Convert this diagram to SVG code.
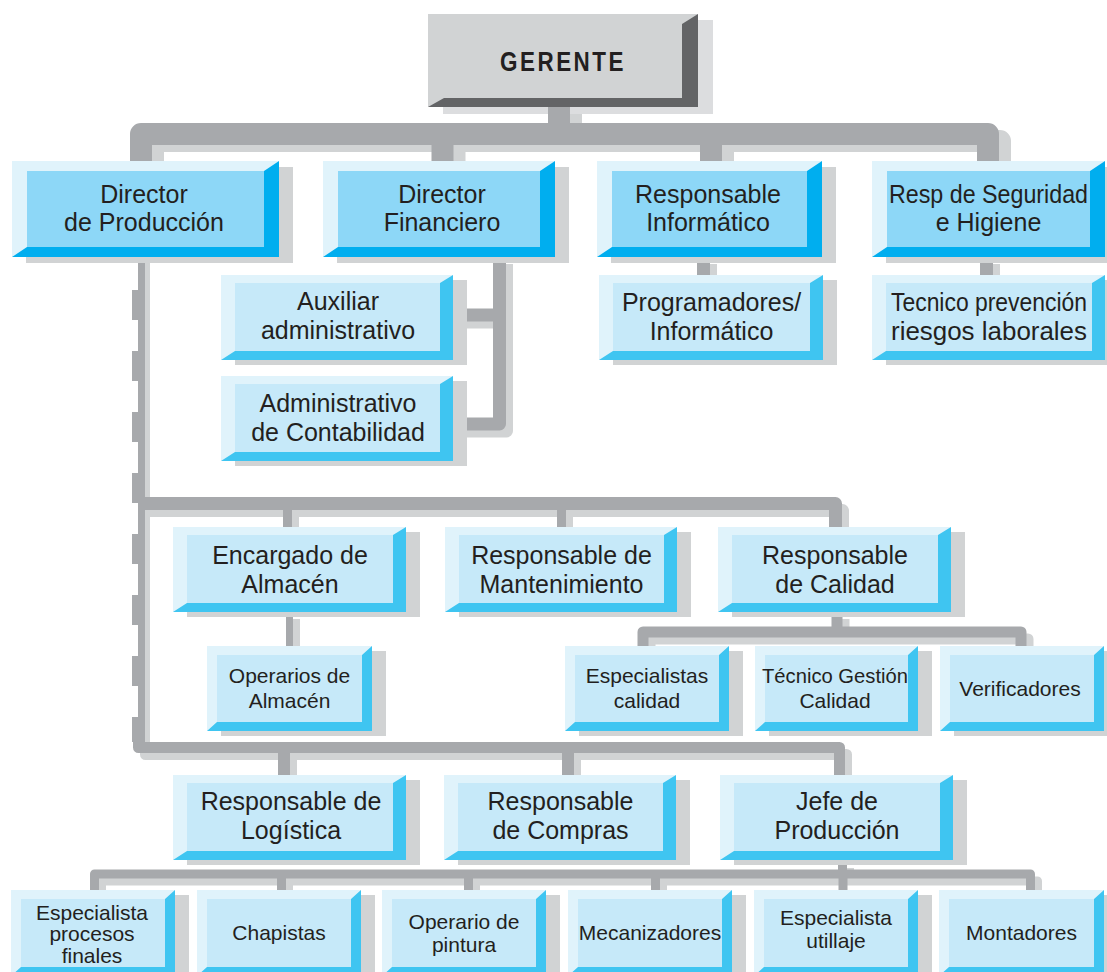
<svg xmlns="http://www.w3.org/2000/svg" width="1107" height="972" viewBox="0 0 1107 972">
<style>
.sh{fill:#d1d3d4}
.lt{fill:#e0f3fb}
.dk{fill:#3fc5f1}
.fc{fill:#c6e9f9}
.top .dk{fill:#00aeef}
.top .fc{fill:#8dd7f7}
text{font-family:"Liberation Sans",Arial,sans-serif;fill:#231f20;text-anchor:middle}
.t25{font-size:25px}
.t21{font-size:21px}
.cn{fill:none;stroke:#a7a9ac;stroke-linejoin:round}
.cs{fill:none;stroke:#d1d3d4;stroke-linejoin:round}
</style>
<rect width="1107" height="972" fill="#ffffff"/>
<g id="gerente">
  <rect x="443" y="20" width="270" height="94" fill="#dcdddf"/>
  <rect x="428" y="14" width="270" height="93" fill="#d1d3d4"/>
  <polygon points="698,14 698,107 428,107 444,98 682,98 682,24" fill="#636466"/>
  <text x="563" y="71" font-size="27" font-weight="bold" letter-spacing="3" textLength="126" lengthAdjust="spacingAndGlyphs">GERENTE</text>
</g>
<g id="connectors">
  <g transform="translate(12,7)">
    <path class="cs" stroke-width="22" d="M559,107 V134 M141,161 V134 H988 V161 M442.5,134 V161 M711,134 V161"/>
  </g>
  <path class="cn" stroke-width="22" d="M559,107 V134 M141,161 V134 H988 V161 M442.5,134 V161 M711,134 V161"/>
  <g transform="translate(7,7)">
    <path class="cs" stroke-width="13" d="M499.5,257 V424 H453 M453,315 H499.5 M703.5,257 V275 M986.5,257 V275"/>
    <path class="cs" stroke-width="13" d="M138,503.5 H835.5 V527"/>
    <path class="cs" stroke-width="9" d="M287.5,503.5 V527 M561.5,503.5 V527"/>
    <path class="cs" stroke-width="7" d="M289.5,612 V646"/>
    <path class="cs" stroke-width="11" d="M837,612 V632 M643,646 V632 H1021 V646"/>
    <path class="cs" stroke-width="11" d="M138.5,735 V747.5 H839.5 V775"/>
    <path class="cs" stroke-width="12" d="M284,747.5 V775 M568,747.5 V775"/>
    <path class="cs" stroke-width="9" d="M842.5,861 V874 M94.5,890 V874 H1030.5 V890 M281.5,874 V890 M468.5,874 V890 M655.5,874 V890"/>
  </g>
  <rect x="138" y="257" width="12" height="491" fill="#d1d3d4"/>
  <path class="cn" stroke-width="13" d="M499.5,257 V424 H453 M453,315 H499.5 M703.5,257 V275 M986.5,257 V275"/>
  <path class="cn" stroke-width="7" d="M141.5,257 V742"/>
  <path class="cn" stroke-width="13" stroke-dasharray="30 31" stroke-dashoffset="28" d="M138.5,257 V742"/>
  <path class="cn" stroke-width="13" d="M138,503.5 H835.5 V527"/>
  <path class="cn" stroke-width="9" d="M287.5,503.5 V527 M561.5,503.5 V527"/>
  <path class="cn" stroke-width="7" d="M289.5,612 V646"/>
  <path class="cn" stroke-width="11" d="M837,612 V632 M643,646 V632 H1021 V646"/>
  <path class="cn" stroke-width="11" d="M138.5,735 V747.5 H839.5 V775"/>
  <path class="cn" stroke-width="12" d="M284,747.5 V775 M568,747.5 V775"/>
  <path class="cn" stroke-width="9" d="M842.5,861 V874 M94.5,890 V874 H1030.5 V890 M281.5,874 V890 M468.5,874 V890 M655.5,874 V890 M843,874 V890"/>
</g>

<!-- top level -->
<g id="dir-produccion" class="top">
  <rect class="sh" x="26" y="167" width="267" height="96"/>
  <rect class="lt" x="12" y="161" width="267" height="96"/>
  <polygon class="dk" points="279,161 279,257 12,257 27,247 264,247 264,171"/>
  <rect class="fc" x="27" y="171" width="237" height="76"/>
  <text class="t25" x="144" y="203">Director</text>
  <text class="t25" x="144" y="231">de Producción</text>
</g>
<g id="dir-financiero" class="top">
  <rect class="sh" x="337" y="167" width="232" height="96"/>
  <rect class="lt" x="323" y="161" width="232" height="96"/>
  <polygon class="dk" points="555,161 555,257 323,257 338,247 540,247 540,171"/>
  <rect class="fc" x="338" y="171" width="202" height="76"/>
  <text class="t25" x="442" y="203">Director</text>
  <text class="t25" x="442" y="231">Financiero</text>
</g>
<g id="resp-informatico" class="top">
  <rect class="sh" x="611" y="167" width="225" height="96"/>
  <rect class="lt" x="597" y="161" width="225" height="96"/>
  <polygon class="dk" points="822,161 822,257 597,257 612,247 807,247 807,171"/>
  <rect class="fc" x="612" y="171" width="195" height="76"/>
  <text class="t25" x="708" y="203">Responsable</text>
  <text class="t25" x="708" y="231">Informático</text>
</g>
<g id="resp-seguridad" class="top">
  <rect class="sh" x="886" y="167" width="233" height="96"/>
  <rect class="lt" x="872" y="161" width="233" height="96"/>
  <polygon class="dk" points="1105,161 1105,257 872,257 887,247 1090,247 1090,171"/>
  <rect class="fc" x="887" y="171" width="203" height="76"/>
  <text class="t25" x="988.5" y="203" textLength="199" lengthAdjust="spacingAndGlyphs">Resp de Seguridad</text>
  <text class="t25" x="988.5" y="231">e Higiene</text>
</g>

<!-- second row -->
<g id="auxiliar">
  <rect class="sh" x="235" y="280" width="232" height="85"/>
  <rect class="lt" x="221" y="275" width="232" height="85"/>
  <polygon class="dk" points="453,275 453,360 221,360 235,351 440,351 440,283"/>
  <rect class="fc" x="235" y="283" width="205" height="68"/>
  <text class="t25" x="338" y="310">Auxiliar</text>
  <text class="t25" x="338" y="339">administrativo</text>
</g>
<g id="administrativo">
  <rect class="sh" x="235" y="381" width="232" height="85"/>
  <rect class="lt" x="221" y="376" width="232" height="85"/>
  <polygon class="dk" points="453,376 453,461 221,461 235,452 440,452 440,384"/>
  <rect class="fc" x="235" y="384" width="205" height="68"/>
  <text class="t25" x="338" y="412">Administrativo</text>
  <text class="t25" x="338" y="441">de Contabilidad</text>
</g>
<g id="programadores">
  <rect class="sh" x="613" y="280" width="224" height="85"/>
  <rect class="lt" x="599" y="275" width="224" height="85"/>
  <polygon class="dk" points="823,275 823,360 599,360 613,351 810,351 810,283"/>
  <rect class="fc" x="613" y="283" width="197" height="68"/>
  <text class="t25" x="711.5" y="311">Programadores/</text>
  <text class="t25" x="711.5" y="340">Informático</text>
</g>
<g id="tecnico-prevencion">
  <rect class="sh" x="886" y="280" width="233" height="85"/>
  <rect class="lt" x="872" y="275" width="233" height="85"/>
  <polygon class="dk" points="1105,275 1105,360 872,360 886,351 1092,351 1092,283"/>
  <rect class="fc" x="886" y="283" width="206" height="68"/>
  <text class="t25" x="989" y="311" textLength="196" lengthAdjust="spacingAndGlyphs">Tecnico prevención</text>
  <text class="t25" x="989" y="340" textLength="196" lengthAdjust="spacingAndGlyphs">riesgos laborales</text>
</g>

<!-- third row -->
<g id="encargado-almacen">
  <rect class="sh" x="187" y="532" width="233" height="85"/>
  <rect class="lt" x="173" y="527" width="233" height="85"/>
  <polygon class="dk" points="406,527 406,612 173,612 187,603 393,603 393,535"/>
  <rect class="fc" x="187" y="535" width="206" height="68"/>
  <text class="t25" x="290" y="564">Encargado de</text>
  <text class="t25" x="290" y="593">Almacén</text>
</g>
<g id="resp-mantenimiento">
  <rect class="sh" x="459" y="532" width="232" height="85"/>
  <rect class="lt" x="445" y="527" width="232" height="85"/>
  <polygon class="dk" points="677,527 677,612 445,612 459,603 664,603 664,535"/>
  <rect class="fc" x="459" y="535" width="205" height="68"/>
  <text class="t25" x="561.5" y="564">Responsable de</text>
  <text class="t25" x="561.5" y="593">Mantenimiento</text>
</g>
<g id="resp-calidad">
  <rect class="sh" x="732" y="532" width="233" height="85"/>
  <rect class="lt" x="718" y="527" width="233" height="85"/>
  <polygon class="dk" points="951,527 951,612 718,612 732,603 938,603 938,535"/>
  <rect class="fc" x="732" y="535" width="206" height="68"/>
  <text class="t25" x="835" y="564">Responsable</text>
  <text class="t25" x="835" y="593">de Calidad</text>
</g>

<!-- small row -->
<g id="operarios-almacen">
  <rect class="sh" x="221" y="651" width="165" height="85"/>
  <rect class="lt" x="207" y="646" width="165" height="85"/>
  <polygon class="dk" points="372,646 372,731 207,731 217,722 362,722 362,655"/>
  <rect class="fc" x="217" y="655" width="145" height="67"/>
  <text class="t21" x="289.5" y="683">Operarios de</text>
  <text class="t21" x="289.5" y="708">Almacén</text>
</g>
<g id="especialistas-calidad">
  <rect class="sh" x="579" y="651" width="164" height="85"/>
  <rect class="lt" x="565" y="646" width="164" height="85"/>
  <polygon class="dk" points="729,646 729,731 565,731 575,722 719,722 719,655"/>
  <rect class="fc" x="575" y="655" width="144" height="67"/>
  <text class="t21" x="647" y="683">Especialistas</text>
  <text class="t21" x="647" y="708">calidad</text>
</g>
<g id="tecnico-gestion">
  <rect class="sh" x="769" y="651" width="163" height="85"/>
  <rect class="lt" x="755" y="646" width="163" height="85"/>
  <polygon class="dk" points="918,646 918,731 755,731 765,722 908,722 908,655"/>
  <rect class="fc" x="765" y="655" width="143" height="67"/>
  <text class="t21" x="835" y="683" textLength="146" lengthAdjust="spacingAndGlyphs">Técnico Gestión</text>
  <text class="t21" x="835" y="708">Calidad</text>
</g>
<g id="verificadores">
  <rect class="sh" x="954" y="651" width="164" height="85"/>
  <rect class="lt" x="940" y="646" width="164" height="85"/>
  <polygon class="dk" points="1104,646 1104,731 940,731 950,722 1094,722 1094,655"/>
  <rect class="fc" x="950" y="655" width="144" height="67"/>
  <text class="t21" x="1020" y="696">Verificadores</text>
</g>

<!-- fifth row -->
<g id="resp-logistica">
  <rect class="sh" x="187" y="780" width="233" height="85"/>
  <rect class="lt" x="173" y="775" width="233" height="85"/>
  <polygon class="dk" points="406,775 406,860 173,860 187,851 393,851 393,783"/>
  <rect class="fc" x="187" y="783" width="206" height="68"/>
  <text class="t25" x="291" y="810">Responsable de</text>
  <text class="t25" x="291" y="839">Logística</text>
</g>
<g id="resp-compras">
  <rect class="sh" x="458" y="780" width="232" height="85"/>
  <rect class="lt" x="444" y="775" width="232" height="85"/>
  <polygon class="dk" points="676,775 676,860 444,860 458,851 663,851 663,783"/>
  <rect class="fc" x="458" y="783" width="205" height="68"/>
  <text class="t25" x="560.5" y="810">Responsable</text>
  <text class="t25" x="560.5" y="839">de Compras</text>
</g>
<g id="jefe-produccion">
  <rect class="sh" x="734" y="780" width="233" height="85"/>
  <rect class="lt" x="720" y="775" width="233" height="85"/>
  <polygon class="dk" points="953,775 953,860 720,860 734,851 940,851 940,783"/>
  <rect class="fc" x="734" y="783" width="206" height="68"/>
  <text class="t25" x="837" y="810">Jefe de</text>
  <text class="t25" x="837" y="839">Producción</text>
</g>

<!-- bottom row -->
<g id="especialista-procesos">
  <rect class="sh" x="25" y="895" width="164" height="86"/>
  <rect class="lt" x="11" y="890" width="164" height="86"/>
  <polygon class="dk" points="175,890 175,976 11,976 21,967 165,967 165,899"/>
  <rect class="fc" x="21" y="899" width="144" height="68"/>
  <text class="t21" x="92" y="920">Especialista</text>
  <text class="t21" x="92" y="941">procesos</text>
  <text class="t21" x="92" y="963">finales</text>
</g>
<g id="chapistas">
  <rect class="sh" x="211" y="895" width="164" height="86"/>
  <rect class="lt" x="197" y="890" width="164" height="86"/>
  <polygon class="dk" points="361,890 361,976 197,976 207,967 351,967 351,899"/>
  <rect class="fc" x="207" y="899" width="144" height="68"/>
  <text class="t21" x="279" y="940">Chapistas</text>
</g>
<g id="operario-pintura">
  <rect class="sh" x="396" y="895" width="164" height="86"/>
  <rect class="lt" x="382" y="890" width="164" height="86"/>
  <polygon class="dk" points="546,890 546,976 382,976 392,967 536,967 536,899"/>
  <rect class="fc" x="392" y="899" width="144" height="68"/>
  <text class="t21" x="464" y="929">Operario de</text>
  <text class="t21" x="464" y="952">pintura</text>
</g>
<g id="mecanizadores">
  <rect class="sh" x="582" y="895" width="164" height="86"/>
  <rect class="lt" x="568" y="890" width="164" height="86"/>
  <polygon class="dk" points="732,890 732,976 568,976 578,967 722,967 722,899"/>
  <rect class="fc" x="578" y="899" width="144" height="68"/>
  <text class="t21" x="650" y="940">Mecanizadores</text>
</g>
<g id="especialista-utillaje">
  <rect class="sh" x="768" y="895" width="164" height="86"/>
  <rect class="lt" x="754" y="890" width="164" height="86"/>
  <polygon class="dk" points="918,890 918,976 754,976 764,967 908,967 908,899"/>
  <rect class="fc" x="764" y="899" width="144" height="68"/>
  <text class="t21" x="836" y="925">Especialista</text>
  <text class="t21" x="836" y="948">utillaje</text>
</g>
<g id="montadores">
  <rect class="sh" x="953" y="895" width="165" height="86"/>
  <rect class="lt" x="939" y="890" width="165" height="86"/>
  <polygon class="dk" points="1104,890 1104,976 939,976 949,967 1094,967 1094,899"/>
  <rect class="fc" x="949" y="899" width="145" height="68"/>
  <text class="t21" x="1021.5" y="940">Montadores</text>
</g>
</svg>
